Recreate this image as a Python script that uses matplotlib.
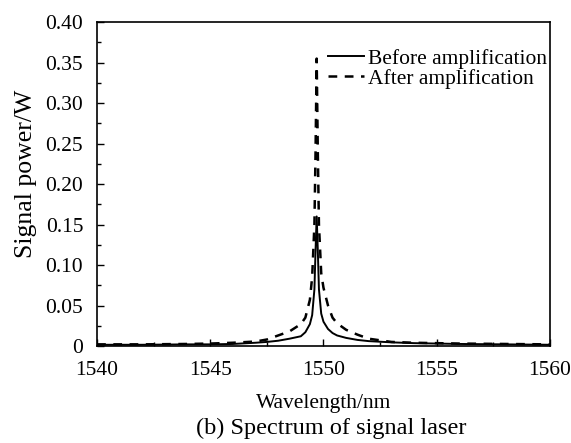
import numpy as np
import matplotlib.pyplot as plt
from matplotlib.ticker import MultipleLocator, FuncFormatter

# wavelength grid (nm)
wavelength = [1540, 1542, 1544, 1545, 1546, 1547, 1547.5, 1548, 1548.5, 1549,
              1549.2, 1549.4, 1549.5, 1549.6, 1549.65, 1549.7, 1549.75, 1549.8,
              1549.9, 1550.0, 1550.2, 1550.4, 1550.6, 1551, 1551.5, 1552, 1553,
              1554, 1555, 1556, 1558, 1560]

# signal power (W)
before = [0.0015, 0.0015, 0.002, 0.002, 0.0025, 0.004, 0.005, 0.0065, 0.009, 0.012,
          0.017, 0.027, 0.038, 0.07, 0.118, 0.16, 0.118, 0.07,
          0.04, 0.03, 0.021, 0.016, 0.013, 0.01, 0.0075, 0.006, 0.0045,
          0.0035, 0.003, 0.0025, 0.002, 0.0015]

after = [0.002, 0.002, 0.0025, 0.003, 0.004, 0.0055, 0.008, 0.013, 0.018, 0.027,
         0.035, 0.057, 0.085, 0.15, 0.24, 0.355, 0.24, 0.15,
         0.09, 0.072, 0.05, 0.035, 0.028, 0.02, 0.014, 0.009, 0.005,
         0.004, 0.0035, 0.003, 0.0025, 0.002]

plt.rcParams['font.family'] = ['Liberation Serif', 'DejaVu Serif']
plt.rcParams['font.size'] = 15.5

fig = plt.figure(figsize=(5.71, 4.43), dpi=100)
ax = fig.add_axes([0.170, 0.219, 0.793, 0.731])

ax.plot(wavelength, before, color='black', lw=1.4, label='Before amplification')
ax.plot(wavelength, after, color='black', lw=1.8, ls=(0, (3.5, 3)), label='After amplification')

ax.set_xlim(1540, 1560)
ax.set_ylim(0, 0.40)
ax.xaxis.set_major_locator(MultipleLocator(5))
ax.xaxis.set_minor_locator(MultipleLocator(2.5))
ax.yaxis.set_major_locator(MultipleLocator(0.05))
ax.yaxis.set_minor_locator(MultipleLocator(0.025))
ax.yaxis.set_major_formatter(FuncFormatter(lambda v, p: '0' if abs(v) < 1e-9 else '%.2f' % v))
ax.tick_params(which='both', direction='in', width=1.0)
ax.tick_params(which='major', length=5)
ax.tick_params(which='minor', length=3)
ax.tick_params(axis='x', which='major', pad=11)
ax.tick_params(axis='y', which='major', pad=10)
for s in ax.spines.values():
    s.set_linewidth(1.2)

ax.set_xlabel('Wavelength/nm', labelpad=10)
ax.set_ylabel('Signal power/W', fontsize=18.5)
ax.yaxis.set_label_coords(-0.133, 0.53)

ax.legend(loc='upper left', bbox_to_anchor=(0.49, 0.945), frameon=False,
          handlelength=1.67, handletextpad=0.23, labelspacing=0.0, borderaxespad=0)

fig.text(0.58, 0.02, '(b) Spectrum of signal laser', ha='center', va='baseline', fontsize=17.5)

fig.savefig('out.png', dpi=100)
